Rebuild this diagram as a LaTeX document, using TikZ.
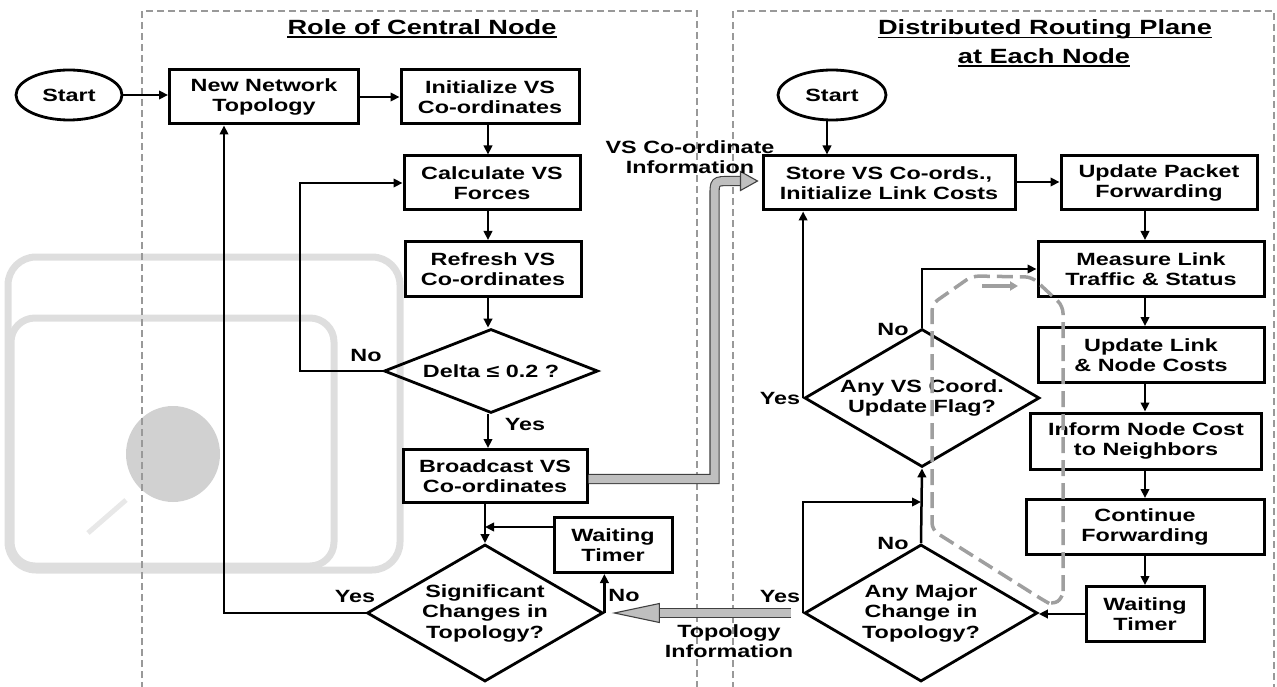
\documentclass[tikz,border=0pt]{standalone}
\usepackage{fontspec}
\setmainfont{Liberation Sans}[FakeStretch=1.32]
\usetikzlibrary{shapes.geometric,arrows.meta,calc}
\begin{document}
\begin{tikzpicture}[x=1pt,y=-1pt,
  every node/.style={font=\bfseries\fontsize{17.7}{20.5}\selectfont},
  box/.style={draw, line width=3pt, rectangle, align=center, inner sep=0pt},
  dia/.style={draw, line width=2.8pt, diamond, aspect=1.7, align=center, inner sep=0pt},
  term/.style={draw, line width=2.8pt, ellipse, inner sep=0pt},
  lbl/.style={inner sep=0pt, align=center},
  flow/.style={line width=2.5pt, -{Triangle[length=9pt,width=8.5pt]}},
  panel/.style={draw=gray!80, line width=1.2pt, dash pattern=on 7pt off 4pt},
  heading/.style={font=\bfseries\fontsize{20.6}{24}\selectfont, inner sep=0pt, anchor=base},
  uline/.style={line width=1.8pt},
  hollow/.style={draw=black!75, double=gray!50, double distance=8pt, line width=1.1pt},
  headfill/.style={fill=gray!50, draw=black!75, line width=1.1pt, line join=miter},
  cycleloop/.style={gray!75, line width=3.5pt, dash pattern=on 16pt off 7pt, rounded corners=7pt},
  wmk/.style={black!13, line width=7pt},
]
\useasboundingbox (0,0) rectangle (1277,687);

% faint logo in the background
\draw[wmk, rounded corners=28pt] (8,257) rectangle (400,570);
\draw[wmk, rounded corners=24pt] (11,318) rectangle (334,566);
\fill[black!18] (173,454) ellipse [x radius=47, y radius=48];
\draw[black!9, line width=5pt] (88,533) -- (126,500);

% the two planes
\draw[panel] (142,700) -- (142,11) -- (697,11) -- (697,700);
\draw[panel] (733,700) -- (733,11) -- (1274,11) -- (1274,700);

\node[heading] (ttlL) at (422,34.5) {Role of Central Node};
\draw[uline] ([yshift=-2.5pt]ttlL.base west) -- ([yshift=-2.5pt]ttlL.base east);
\node[heading] (ttlR1) at (1045,35) {Distributed Routing Plane};
\draw[uline] ([yshift=-2.5pt]ttlR1.base west) -- ([yshift=-2.5pt]ttlR1.base east);
\node[heading] (ttlR2) at (1044,63.5) {at Each Node};
\draw[uline] ([yshift=-2.5pt]ttlR2.base west) -- ([yshift=-2.5pt]ttlR2.base east);

% ---------- central node ----------
\node[term, minimum width=106pt, minimum height=50pt] (startL) at (69,95) {Start};
\node[box, minimum width=189pt, minimum height=54pt] (newtop) at (264,97) {New Network\\Topology};
\node[box, minimum width=178pt, minimum height=54pt] (init) at (490,97) {Initialize VS\\Co-ordinates};
\node[box, minimum width=176pt, minimum height=54pt] (forces) at (492,183) {Calculate VS\\Forces};
\node[box, minimum width=176pt, minimum height=55pt] (refresh) at (493,269) {Refresh VS\\Co-ordinates};
\node[dia, minimum width=214pt, minimum height=84pt, aspect=2.5] (delta) at (491,371) {Delta ≤ 0.2 ?};
\node[box, minimum width=184pt, minimum height=53pt] (bcast) at (495,476) {Broadcast VS\\Co-ordinates};
\node[box, minimum width=118pt, minimum height=55pt] (waitL) at (613,545) {Waiting\\Timer};
\node[dia, minimum width=236pt, minimum height=137pt] (signif) at (485,613) {Significant\\Changes in\\Topology?};

\coordinate (colL) at (488,0);
\coordinate (noBend) at (300,0);
\coordinate (yesBend) at (224,0);

\draw[flow] (startL.east) -- (startL.east -| newtop.west);
\draw[flow] (newtop.east |- init.west) -- (init.west);
\draw[flow] (init.south -| colL) -- (forces.north -| colL);
\draw[flow] (forces.south -| colL) -- (refresh.north -| colL);
\draw[flow] (refresh.south -| colL) -- (delta.north -| colL);
\draw[flow] (delta.south -| colL) -- (bcast.north -| colL);
\draw[flow] (delta.west) -- (delta.west -| noBend) -- (forces.west -| noBend) -- (forces.west);
\draw[flow] (bcast.south -| signif.north) -- (signif.north);
\coordinate (waitJoin) at ([yshift=18pt]waitL.west);
\draw[flow] (waitJoin) -- (waitJoin -| signif.north);
\draw[flow] (signif.east) -- (signif.east |- waitL.south);
\draw[flow] (signif.west) -- (signif.west -| yesBend) -- (newtop.south -| yesBend);

\node[lbl] (noDelta) at (366,355) {No};
\node[lbl] (yesDelta) at (525,424) {Yes};
\node[lbl] (yesSig) at (355,596) {Yes};
\node[lbl] (noSig) at (624,595) {No};

% ---------- routing plane ----------
\node[term, minimum width=108pt, minimum height=50pt] (startR) at (832,95) {Start};
\node[box, minimum width=252pt, minimum height=54pt] (store) at (889,183) {Store VS Co-ords.,\\Initialize Link Costs};
\node[box, minimum width=196pt, minimum height=54pt] (updpkt) at (1159,183) {Update Packet\\Forwarding};
\node[box, minimum width=226pt, minimum height=55pt] (measure) at (1151,269) {Measure Link\\Traffic \& Status};
\node[box, minimum width=226pt, minimum height=55pt] (updlink) at (1151,355) {Update Link\\ \& Node Costs};
\node[box, minimum width=231pt, minimum height=56pt] (inform) at (1146,441) {Inform Node Cost\\to Neighbors};
\node[box, minimum width=238pt, minimum height=55pt] (cont) at (1145,527) {Continue\\Forwarding};
\node[box, minimum width=118pt, minimum height=55pt] (waitR) at (1145,614) {Waiting\\Timer};
\node[dia, minimum width=235pt, minimum height=138pt] (flag) at (922,398) {Any VS Coord.\\Update Flag?};
\node[dia, minimum width=233pt, minimum height=137pt] (major) at (921,613) {Any Major\\Change in\\Topology?};

\coordinate (colR) at (1145,0);
\draw[flow] (startR.south -| 827,0) -- (store.north -| 827,0);
\draw[flow] (store.east |- 0,182) -- (updpkt.west |- 0,182);
\draw[flow] (updpkt.south -| colR) -- (measure.north -| colR);
\draw[flow] (measure.south -| colR) -- (updlink.north -| colR);
\draw[flow] (updlink.south -| colR) -- (inform.north -| colR);
\draw[flow] (inform.south -| colR) -- (cont.north -| colR);
\draw[flow] (cont.south -| colR) -- (waitR.north -| colR);
\draw[flow] (waitR.west) -- (waitR.west -| major.east);
\draw[flow] (major.north) -- (flag.south);
\path (major.west) ++(0,-111) coordinate (yesJoin);
\draw[flow] (major.west) -- (yesJoin) -- (yesJoin -| major.north);
\draw[flow] (flag.west) -- (flag.west |- store.south);
\draw[flow] (flag.north) |- (measure.west);

\node[lbl] (yesFlag) at (780,398) {Yes};
\node[lbl] (noFlag) at (893,329) {No};
\node[lbl] (yesMajor) at (780,596) {Yes};
\node[lbl] (noMajor) at (893,543) {No};

% ---------- information passed between the planes ----------
\coordinate (vsA) at ([yshift=-3pt]bcast.east);
\coordinate (vsTip) at ([xshift=-4pt,yshift=2pt]store.west);
\coordinate (vsX) at (714.5,0);
\coordinate (vsBase) at ($(vsTip)+(-17,0)$);
\draw[hollow] (vsA) -- (vsA -| vsX) -- ($(vsX |- vsTip)+(0,16)$)
   .. controls (vsX |- vsTip) .. ($(vsX |- vsTip)+(16,0)$) -- ($(vsBase)+(0.5,0)$);
\draw[headfill] ($(vsBase)+(0,-9.5)$) -- (vsTip) -- ($(vsBase)+(0,9.5)$) -- cycle;
\node[lbl] (vsInfo) at (690,157) {VS Co-ordinate\\Information};

\coordinate (tpA) at ([xshift=-12pt]major.west);
\coordinate (tpTip) at ([xshift=10pt]signif.east);
\coordinate (tpBase) at ($(tpTip)+(45,0)$);
\draw[hollow] (tpA) -- ($(tpBase)+(-0.5,0)$);
\draw[headfill] ($(tpBase)+(0,-9.5)$) -- (tpTip) -- ($(tpBase)+(0,9.5)$) -- cycle;
\node[lbl] (topoInfo) at (729,641) {Topology\\Information};

% processing cycle at each node
\draw[cycleloop] (1063,598) -- (1063,306) -- (1032,277) -- (972,276) -- (932,304)
   -- (932,530) -- (1043,600) -- (1052,605) -- cycle;
\draw[gray!75, line width=3.5pt, -{Triangle[length=8pt,width=9pt]}] (982,286) -- (1018,286);
\end{tikzpicture}
\end{document}
